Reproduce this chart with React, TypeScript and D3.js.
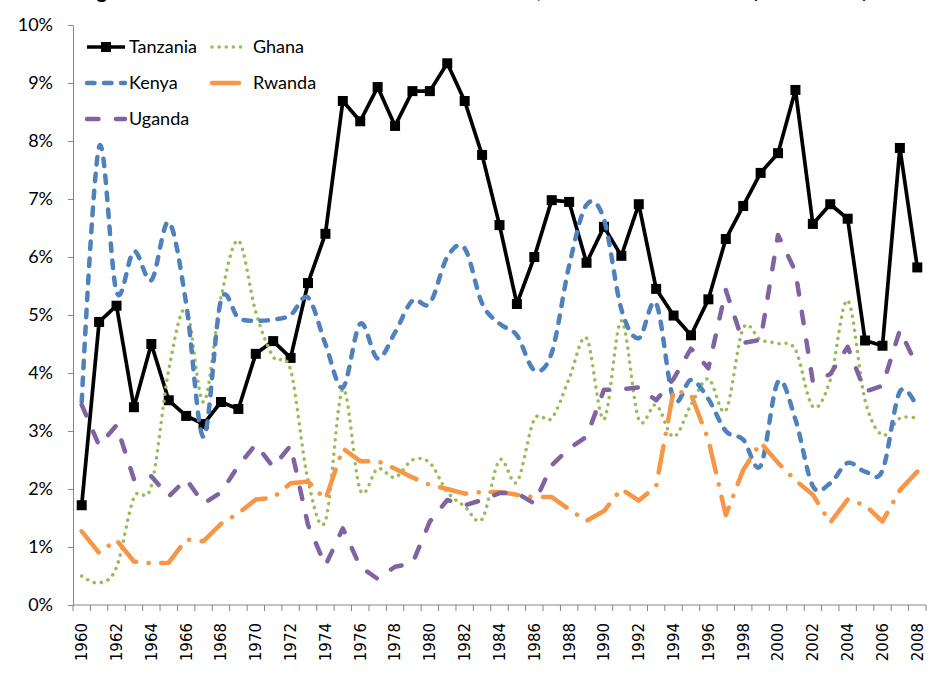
import React, { useEffect, useRef } from 'react';
import * as d3 from 'd3';

// years on the category axis
const years: number[] = d3.range(1960, 2009);

// series values, percent
const tanzania = [1.72, 4.88, 5.16, 3.41, 4.5, 3.53, 3.26, 3.12, 3.5, 3.38,
  4.33, 4.55, 4.26, 5.55, 6.4, 8.69, 8.34, 8.93, 8.26, 8.86,
  8.86, 9.34, 8.69, 7.76, 6.55, 5.19, 6.0, 6.98, 6.95, 5.9,
  6.52, 6.02, 6.91, 5.45, 4.99, 4.65, 5.27, 6.31, 6.88, 7.45,
  7.79, 8.88, 6.57, 6.91, 6.66, 4.56, 4.47, 7.88, 5.82];
const ghana = [0.5, 0.38, 0.65, 1.85, 2.05, 4.05, 5.1, 3.5, 5.3, 6.28,
  5.05, 4.28, 4.05, 2.15, 1.45, 3.72, 1.98, 2.35, 2.2, 2.5,
  2.45, 1.95, 1.7, 1.48, 2.5, 2.12, 3.2, 3.22, 3.9, 4.6,
  3.2, 4.9, 3.2, 3.45, 2.9, 3.45, 3.9, 3.35, 4.77, 4.57,
  4.51, 4.4, 3.42, 3.88, 5.25, 3.53, 2.93, 3.22, 3.22];
const kenya = [3.5, 7.9, 5.4, 6.1, 5.6, 6.6, 5.2, 2.9, 5.25, 4.95,
  4.9, 4.92, 5.0, 5.3, 4.5, 3.75, 4.85, 4.25, 4.7, 5.25,
  5.2, 6.0, 6.15, 5.2, 4.85, 4.65, 4.05, 4.35, 5.85, 6.9,
  6.65, 5.1, 4.6, 5.2, 3.55, 3.88, 3.55, 3.0, 2.85, 2.4,
  3.85, 3.2, 2.05, 2.1, 2.45, 2.3, 2.32, 3.68, 3.4];
const rwanda = [1.27, 0.9, 1.12, 0.75, 0.72, 0.73, 1.13, 1.1, 1.4, 1.58,
  1.82, 1.85, 2.1, 2.13, 1.82, 2.7, 2.48, 2.48, 2.35, 2.2,
  2.07, 2.0, 1.92, 1.95, 1.95, 1.9, 1.86, 1.86, 1.65, 1.45,
  1.62, 2.0, 1.8, 2.05, 3.7, 3.63, 2.85, 1.55, 2.33, 2.8,
  2.45, 2.15, 1.9, 1.42, 1.82, 1.72, 1.44, 1.98, 2.3];
const uganda = [3.45, 2.75, 3.1, 2.17, 2.22, 1.87, 2.17, 1.75, 1.94, 2.4,
  2.77, 2.38, 2.75, 1.38, 0.68, 1.32, 0.66, 0.45, 0.66, 0.72,
  1.44, 1.81, 1.72, 1.81, 1.93, 1.93, 1.75, 2.41, 2.7, 2.9,
  3.71, 3.72, 3.75, 3.53, 3.9, 4.42, 4.08, 5.43, 4.52, 4.57,
  6.38, 5.75, 3.85, 3.98, 4.45, 3.68, 3.78, 4.74, 4.11];

const yTicks = [0, 1, 2, 3, 4, 5, 6, 7, 8, 9, 10];

const series = [
  { name: 'Tanzania', values: tanzania, color: '#000000', width: 3.7, dash: null, cap: 'butt', smooth: false, marker: true },
  { name: 'Ghana', values: ghana, color: '#9BBB59', width: 3.5, dash: '0.1 7', cap: 'round', smooth: true, marker: false },
  { name: 'Kenya', values: kenya, color: '#4F81BD', width: 4.5, dash: '7.5 9.5', cap: 'round', smooth: true, marker: false },
  { name: 'Rwanda', values: rwanda, color: '#F79646', width: 4.5, dash: '27 12.5 0.1 12.5', cap: 'round', smooth: false, marker: false },
  { name: 'Uganda', values: uganda, color: '#8064A2', width: 4.5, dash: '11.5 17.5', cap: 'round', smooth: false, marker: false },
];

const W = 931;
const H = 677;
const axisColor = '#868686';
const labelFont = 'Lato, "Open Sans", sans-serif';

export default function App() {
  const ref = useRef<SVGSVGElement>(null);

  useEffect(() => {
    const svg = d3.select(ref.current);
    svg.selectAll('*').remove();

    const x = d3.scaleBand<number>().domain(years).range([73, 926]);
    const cx = (yr: number) => (x(yr) as number) + x.bandwidth() / 2;
    const y = d3.scaleLinear().domain([0, 10]).range([605, 25]);

    // title, mostly cropped off the top of the picture
    const title = svg.append('g')
      .attr('font-family', labelFont)
      .attr('font-weight', 'bold')
      .attr('font-size', 20)
      .attr('fill', '#000');
    title.append('text').attr('x', 80).attr('y', -2)
      .text('Figure 5: Inflation in Tanzania and Other Countries');
    title.append('text').attr('x', 537).attr('y', -2).text(',');
    title.append('text').attr('x', 560).attr('y', -2).text('Annual Rates');
    title.append('text').attr('x', 752).attr('y', -2)
      .attr('textLength', 116).attr('lengthAdjust', 'spacingAndGlyphs')
      .text('(1960-2008)');

    // y axis
    const yAxis = svg.append('g')
      .attr('transform', 'translate(73,0)')
      .call(d3.axisLeft(y).tickValues(yTicks).tickFormat(d => d + '%').tickSizeInner(5).tickSizeOuter(0).tickPadding(15));
    yAxis.select('.domain').attr('stroke', axisColor);
    yAxis.selectAll('.tick line').attr('stroke', axisColor);
    yAxis.selectAll('.tick text')
      .attr('font-family', labelFont)
      .attr('font-size', 18)
      .attr('fill', '#000');

    // x axis
    const xAxis = svg.append('g');
    xAxis.append('line')
      .attr('x1', 73).attr('x2', 926)
      .attr('y1', y(0)).attr('y2', y(0))
      .attr('stroke', axisColor);
    const bounds = years.map(yr => x(yr) as number).concat([926]);
    xAxis.selectAll('line.tk')
      .data(bounds)
      .join('line')
      .attr('class', 'tk')
      .attr('x1', d => d).attr('x2', d => d)
      .attr('y1', y(0)).attr('y2', y(0) + 6)
      .attr('stroke', axisColor);
    xAxis.selectAll('text')
      .data(years.filter(yr => (yr - 1960) % 2 === 0))
      .join('text')
      .attr('transform', d => `translate(${cx(d)},623) rotate(-90)`)
      .attr('text-anchor', 'end')
      .attr('dy', '0.36em')
      .attr('font-family', '"DejaVu Sans", sans-serif')
      .attr('font-size', 15)
      .attr('fill', '#000')
      .text(d => d);

    // series
    series.forEach(s => {
      const line = d3.line<number>()
        .x((d, i) => cx(years[i]))
        .y(d => y(d))
        .curve(s.smooth ? d3.curveCardinal.tension(0) : d3.curveLinear);
      svg.append('path')
        .datum(s.values)
        .attr('d', line)
        .attr('fill', 'none')
        .attr('stroke', s.color)
        .attr('stroke-width', s.width)
        .attr('stroke-linecap', s.cap)
        .attr('stroke-linejoin', 'round')
        .attr('stroke-dasharray', s.dash);
      if (s.marker) {
        svg.append('g').selectAll('rect')
          .data(s.values)
          .join('rect')
          .attr('x', (d, i) => cx(years[i]) - 5)
          .attr('y', d => y(d) - 5)
          .attr('width', 10).attr('height', 10)
          .attr('fill', s.color);
      }
    });

    // legend, row by row in two columns
    const legendPos = [
      { x: 87, y: 47 }, { x: 212, y: 47 },
      { x: 87, y: 83 }, { x: 212, y: 83 },
      { x: 87, y: 119 },
    ];
    const legend = svg.append('g');
    series.forEach((s, i) => {
      const p = legendPos[i];
      const len = i % 2 === 0 ? 38 : 32;
      legend.append('line')
        .attr('x1', p.x).attr('x2', p.x + len)
        .attr('y1', p.y).attr('y2', p.y)
        .attr('stroke', s.color)
        .attr('stroke-width', s.width)
        .attr('stroke-linecap', s.cap)
        .attr('stroke-dasharray', s.dash);
      if (s.marker) {
        legend.append('rect')
          .attr('x', p.x + len / 2 - 5).attr('y', p.y - 5)
          .attr('width', 10).attr('height', 10)
          .attr('fill', s.color);
      }
      legend.append('text')
        .attr('x', p.x + (i % 2 === 0 ? 42 : 41))
        .attr('y', p.y)
        .attr('dy', '0.36em')
        .attr('font-family', labelFont)
        .attr('font-size', 18)
        .attr('fill', '#000')
        .text(s.name);
    });
  }, []);

  return (
    <div style={{ position: 'absolute', left: 0, top: 0 }}>
      <svg ref={ref} width={W} height={H} style={{ display: 'block', background: '#fff' }} />
    </div>
  );
}
